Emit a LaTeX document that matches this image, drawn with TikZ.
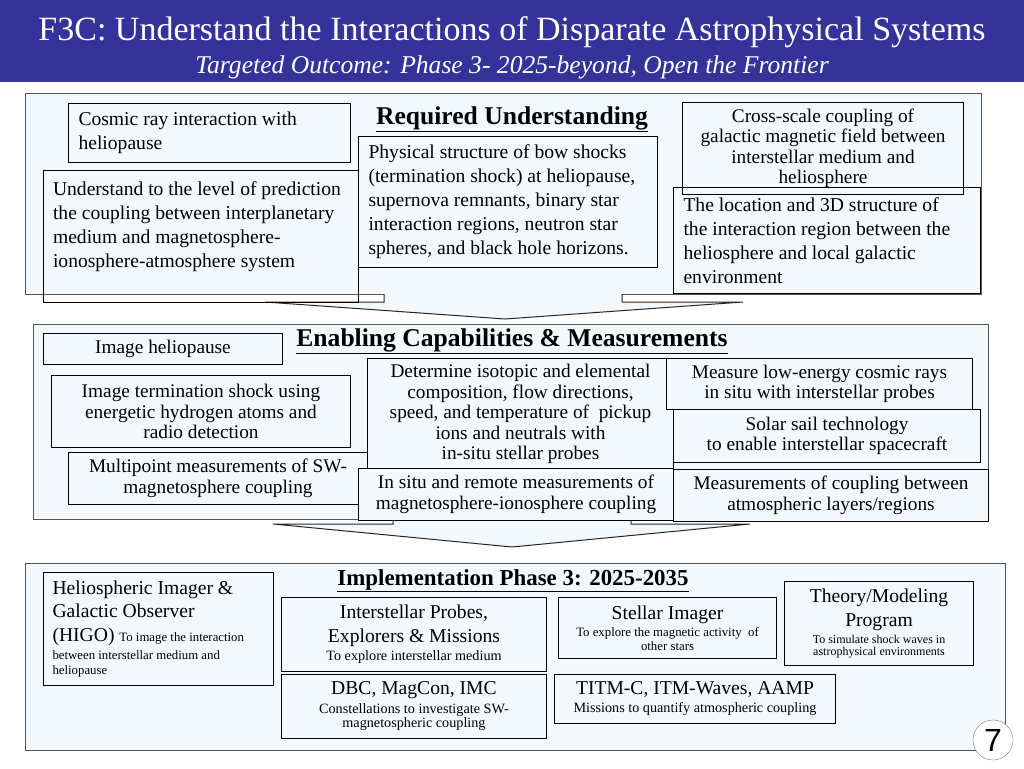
\documentclass[tikz,border=0pt]{standalone}
\usepackage{fontspec}
\setmainfont{Liberation Serif}
\newfontfamily\pagefont{Liberation Sans}
\definecolor{bannerblue}{RGB}{51,51,153}
\definecolor{skyfill}{RGB}{243,248,252}
\definecolor{edgegray}{RGB}{85,85,85}
\newcommand{\bodytxt}{\fontsize{19.6}{24}\selectfont}
\newcommand{\captxt}{\fontsize{19.3}{20.5}\selectfont}
\newcommand{\bigtxt}{\fontsize{19.6}{23.5}\selectfont}
\newcommand{\smalltxt}{\fontsize{14.2}{15}\selectfont}
\newcommand{\tinytxt}{\fontsize{12.8}{14}\selectfont}

\begin{document}
\begin{tikzpicture}[
    x=1pt, y=-1pt,
    panel/.style={draw=edgegray, fill=skyfill, line width=1.2pt, anchor=north west, inner sep=0pt},
    itembox/.style={draw, line width=1pt, fill=skyfill, anchor=north west, inner sep=0pt, align=flush center},
    openbox/.style={itembox, fill=none},
    heading/.style={anchor=base, font=\bfseries\fontsize{25.6}{28}\selectfont},
    funnel/.style={draw=black!85, line width=1pt}
]
\useasboundingbox[fill=white] (0,0) rectangle (1024,768);

% title band
\fill[bannerblue] (0,0) rectangle (1024,82);
\node[anchor=base, text=white, font=\fontsize{34}{38}\selectfont] (title) at (512,41) {F3C: Understand the Interactions of Disparate Astrophysical Systems};
\node[anchor=base, text=white, font=\itshape\fontsize{25.6}{28}\selectfont] (subtitle) at (512,73) {Targeted Outcome: Phase 3- 2025-beyond, Open the Frontier};

% three stages
\node[panel, minimum width=956, minimum height=201] (reqpanel) at (25,93) {};
\fill[skyfill] (384,290) -- (384,302) -- (265,302) -- (505,319) -- (743,302) -- (622,302) -- (622,290) -- cycle;
\draw[funnel] (384,294) -- (384,302) -- (265,302) -- (505,319) -- (743,302) -- (622,302) -- (622,294);
\node[panel, minimum width=955, minimum height=195] (capspanel) at (33,324) {};
\fill[skyfill] (393,515) -- (393,524) -- (273,524) -- (512,547) -- (750,524) -- (631,524) -- (631,515) -- cycle;
\draw[funnel] (393,519) -- (393,524) -- (273,524) -- (512,547) -- (750,524) -- (631,524) -- (631,519);
\node[panel, minimum width=980, minimum height=187] (implpanel) at (25,563) {};

% required understanding
\node[heading] (reqhead) at (512,124) {\underline{Required Understanding}};
\node[itembox, align=flush left, minimum width=282, minimum height=59, text width=262pt, font=\bodytxt] (cosmic) at (68,103) {Cosmic ray interaction with\\heliopause};
\node[openbox, align=flush left, minimum width=315, minimum height=132, text width=296pt, font=\bodytxt] (predict) at (43,170) {Understand to the level of prediction\\the coupling between interplanetary\\medium and magnetosphere-\\ionosphere-atmosphere system\\\mbox{}};
\node[itembox, align=flush left, minimum width=299, minimum height=131, text width=279pt, font=\bodytxt] (bowshock) at (358,136) {Physical structure of bow shocks\\(termination shock) at heliopause,\\supernova remnants, binary star\\interaction regions, neutron star\\spheres, and black hole horizons.};
\node[itembox, align=flush left, minimum width=307, minimum height=106, text width=287pt, font=\bodytxt] (location) at (673,187) {The location and 3D structure of\\the interaction region between the\\heliosphere and local galactic\\environment};
\node[openbox, minimum width=281, minimum height=92, text width=271pt, font=\captxt] (crossscale) at (682,102) {Cross-scale coupling of\\galactic magnetic field between\\interstellar medium and\\heliosphere};

% enabling capabilities
\node[heading] (capshead) at (512,346) {\underline{Enabling Capabilities \& Measurements}};
\node[itembox, minimum width=239, minimum height=31, font=\captxt] (imghelio) at (43,333) {Image heliopause};
\node[itembox, minimum width=299, minimum height=72, text width=289pt, font=\captxt] (imgshock) at (51,375) {Image termination shock using\\energetic hydrogen atoms and\\radio detection};
\node[itembox, minimum width=299, minimum height=52, text width=289pt, font=\captxt] (multipoint) at (68,452) {Multipoint measurements of SW-\\magnetosphere coupling};
\node[itembox, minimum width=306, minimum height=111, text width=296pt, font=\captxt] (isotopic) at (367,358) {Determine isotopic and elemental\\composition, flow directions,\\speed, and temperature of~ pickup\\ions and neutrals with\\in-situ stellar probes};
\node[itembox, minimum width=315, minimum height=52, text width=305pt, font=\captxt] (insitu) at (358,468) {In situ and remote measurements of\\magnetosphere-ionosphere coupling};
\node[itembox, minimum width=306, minimum height=51, text width=296pt, font=\captxt] (lowenergy) at (666,358) {Measure low-energy cosmic rays\\in situ with interstellar probes};
\node[itembox, minimum width=307, minimum height=53, text width=297pt, font=\captxt] (solarsail) at (673,409) {Solar sail technology\\to enable interstellar spacecraft};
\node[itembox, minimum width=315, minimum height=52, text width=305pt, font=\captxt] (atmolayers) at (673,469) {Measurements of coupling between\\atmospheric layers/regions};

% implementation
\node[heading, font=\bfseries\fontsize{22.9}{26}\selectfont] (implhead) at (513,585) {\underline{Implementation Phase 3: 2025-2035}};
\node[itembox, align=flush left, minimum width=230, minimum height=113, text width=212pt, font=\bigtxt] (higo) at (43,572) {Heliospheric Imager \&\\Galactic Observer\\(HIGO) {\tinytxt To image the interaction}\\[-5pt]{\tinytxt between interstellar medium and}\\[-9pt]{\tinytxt heliopause}};
\node[itembox, minimum width=265, minimum height=74, text width=255pt, font=\bigtxt] (probes) at (281,597) {Interstellar Probes,\\Explorers \& Missions\\[-5pt]{\smalltxt To explore interstellar medium}};
\node[itembox, minimum width=265, minimum height=64, text width=255pt, font=\bigtxt] (dbc) at (281,674) {DBC, MagCon, IMC\\[-5pt]{\smalltxt Constellations to investigate SW-}\\[-9pt]{\smalltxt magnetospheric coupling}};
\node[itembox, minimum width=218, minimum height=61, text width=208pt, font=\bigtxt] (stellar) at (558,597) {Stellar Imager\\[-6pt]{\tinytxt To explore the magnetic activity~ of}\\[-10pt]{\tinytxt other stars}};
\node[itembox, minimum width=189, minimum height=84, text width=181pt, font=\bigtxt] (theory) at (784,581) {Theory/Modeling\\Program\\[-6.5pt]{\fontsize{12}{14}\selectfont To simulate shock waves in}\\[-11pt]{\fontsize{12}{14}\selectfont astrophysical environments}};
\node[itembox, minimum width=281, minimum height=49, text width=271pt, font=\bigtxt] (titm) at (554,674) {TITM-C, ITM-Waves, AAMP\\[-5.5pt]{\smalltxt Missions to quantify atmospheric coupling}};

\node[circle, draw=gray, fill=white, minimum size=40, inner sep=0pt, font=\pagefont\fontsize{32}{32}\selectfont] (pagenum) at (993,740) {7};
\end{tikzpicture}
\end{document}
